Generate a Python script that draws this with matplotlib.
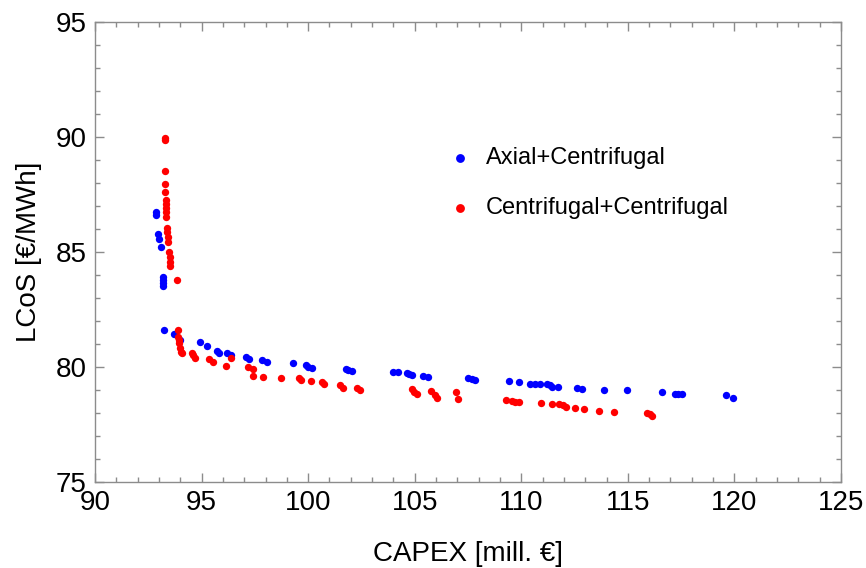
import matplotlib
matplotlib.use("Agg")
import matplotlib.pyplot as plt
from matplotlib.ticker import MultipleLocator

plt.rcParams['font.family'] = ['Liberation Sans', 'DejaVu Sans']

# Axial+Centrifugal (blue)
axial_capex = [92.85, 92.87, 92.95, 93.0, 93.08, 93.18, 93.19, 93.2, 93.21,
               93.25, 93.72, 93.99, 94.93, 95.24, 95.71, 95.83, 96.18, 96.37,
               97.09, 97.24, 97.82, 98.06, 99.28, 99.89, 100.01, 100.17,
               101.78, 101.89, 102.05, 104.0, 104.23, 104.63, 104.75, 104.86,
               105.4, 105.64, 107.52, 107.68, 107.83, 109.44, 109.91, 110.41,
               110.65, 110.88, 111.19, 111.35, 111.43, 111.74, 112.63, 112.84,
               113.89, 114.98, 116.62, 117.22, 117.37, 117.56, 119.62, 119.92]
axial_lcos = [86.76, 86.62, 85.78, 85.55, 85.2, 83.92, 83.78, 83.65, 83.52,
              81.61, 81.43, 81.17, 81.1, 80.91, 80.70, 80.62, 80.59, 80.52,
              80.45, 80.33, 80.30, 80.22, 80.16, 80.09, 80.01, 79.94,
              79.91, 79.87, 79.83, 79.8, 79.77, 79.75, 79.7, 79.64,
              79.61, 79.55, 79.54, 79.48, 79.45, 79.39, 79.36, 79.27,
              79.27, 79.26, 79.27, 79.22, 79.14, 79.12, 79.1, 79.03,
              79.0, 79.0, 78.9, 78.83, 78.83, 78.81, 78.80, 78.64]

# Centrifugal+Centrifugal (red)
centr_capex = [93.28, 93.28, 93.28, 93.30, 93.30, 93.32, 93.32, 93.33, 93.33,
               93.34, 93.38, 93.40, 93.42, 93.44, 93.48, 93.50, 93.52, 93.54,
               93.86, 93.88, 93.88, 93.92, 93.95, 94.0, 94.05, 94.1, 94.53,
               94.61, 94.69, 95.36, 95.52, 96.15, 96.37, 97.19, 97.40, 97.43,
               97.9, 98.74, 99.59, 99.65, 100.15, 100.64, 100.76, 101.5,
               101.65, 102.31, 102.44, 104.89, 104.98, 105.09, 105.75, 105.95,
               106.03, 106.94, 107.02, 109.29, 109.58, 109.71, 109.88, 110.91,
               111.43, 111.78, 111.94, 112.1, 112.52, 112.95, 113.67, 114.36,
               115.92, 116.05, 116.12]
centr_lcos = [89.95, 89.88, 88.52, 87.96, 87.62, 87.26, 87.1, 86.9, 86.75,
              86.5, 86.04, 85.85, 85.65, 85.45, 85.0, 84.8, 84.55, 84.38,
              83.78, 81.61, 81.32, 81.17, 81.03, 80.81, 80.67, 80.59, 80.62,
              80.52, 80.40, 80.33, 80.2, 80.04, 80.40, 80.01, 79.9, 79.62,
              79.58, 79.51, 79.51, 79.43, 79.4, 79.36, 79.26, 79.22,
              79.07, 79.07, 79.0, 79.03, 78.93, 78.83, 78.97, 78.78,
              78.64, 78.9, 78.6, 78.57, 78.54, 78.49, 78.47, 78.45,
              78.38, 78.38, 78.35, 78.27, 78.2, 78.16, 78.09, 78.06,
              78.01, 77.94, 77.88]

fig = plt.figure(figsize=(8.66, 5.68), dpi=100)
ax = fig.add_axes([0.1097, 0.1514, 0.8614, 0.8099])

ax.scatter(axial_capex, axial_lcos, s=28, color='#0000ff', linewidths=0,
           label='Axial+Centrifugal', zorder=3)
ax.scatter(centr_capex, centr_lcos, s=28, color='#ff0000', linewidths=0,
           label='Centrifugal+Centrifugal', zorder=3)

ax.set_xlim(90, 125)
ax.set_ylim(75, 95)
ax.xaxis.set_major_locator(MultipleLocator(5))
ax.xaxis.set_minor_locator(MultipleLocator(1))
ax.yaxis.set_major_locator(MultipleLocator(5))
ax.yaxis.set_minor_locator(MultipleLocator(1))

frame_col = '#8c8c8c'
for sp in ax.spines.values():
    sp.set_color(frame_col)
    sp.set_linewidth(1.0)
ax.tick_params(which='both', direction='in', top=True, right=True,
               color=frame_col, width=1.0)
ax.tick_params(which='major', length=6.5, labelsize=20, pad=6)
ax.tick_params(which='minor', length=3.5)

ax.set_xlabel('CAPEX [mill. €]', fontsize=20, labelpad=18)
ax.set_ylabel('LCoS [€/MWh]', fontsize=20, labelpad=10)

ax.legend(loc='upper left', bbox_to_anchor=(0.458, 0.754), frameon=False,
          fontsize=17, labelspacing=1.2, handletextpad=0.6,
          handlelength=1.0, borderpad=0.0, markerscale=1.2)

fig.savefig('out.png', dpi=100)
